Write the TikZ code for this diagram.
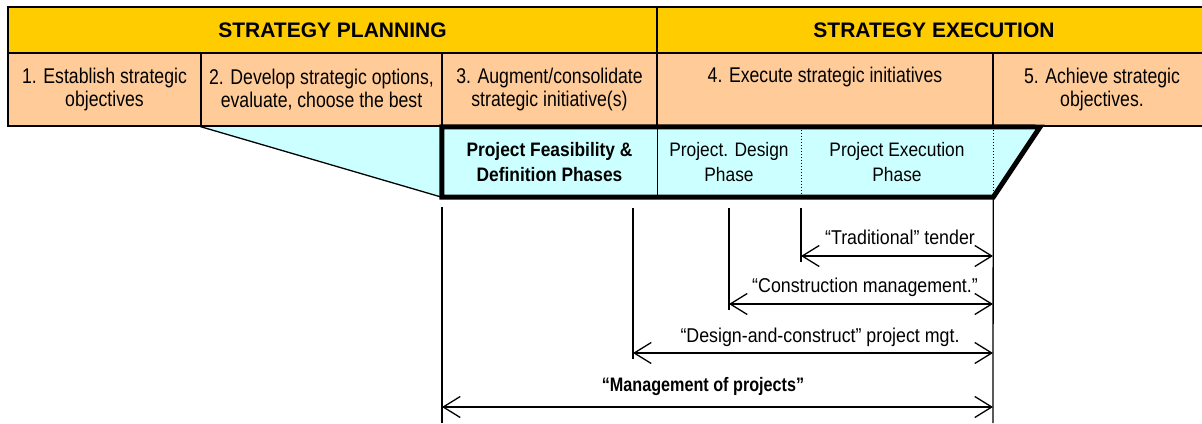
\documentclass[tikz,border=0pt]{standalone}
\usepackage{fontspec}
\setmainfont{Liberation Sans}
\newfontfamily\narrowsf[FakeStretch=0.83]{Liberation Sans}
\newfontfamily\phasesf[FakeStretch=0.89]{Liberation Sans}
\usepackage{tikz}
\usetikzlibrary{arrows.meta}
\definecolor{hdrfill}{HTML}{FFCC00}
\definecolor{stepfill}{HTML}{FFCC99}
\definecolor{phasefill}{HTML}{CCFFFF}
\tikzset{
    hdrcell/.style={rectangle, draw=black, line width=1.2pt, fill=hdrfill,
    minimum height=46pt, inner sep=0pt, font=\fontsize{21}{25}\selectfont\bfseries},
    stepcell/.style={rectangle, draw=black, line width=1.2pt, fill=stepfill,
    minimum height=73pt, inner sep=0pt, align=center, font=\narrowsf\fontsize{21.3}{23}\selectfont},
    phasecell/.style={rectangle, inner sep=0pt, minimum height=70pt, align=center,
    font=\phasesf\fontsize{19.5}{25}\selectfont},
    marker/.style={line width=1.3pt},
    spanarrow/.style={{Straight Barb[length=17pt,width=21pt]}-{Straight Barb[length=17pt,width=21pt]}, line width=1.3pt},
    spanlabel/.style={anchor=base, font=\phasesf\fontsize{20}{24}\selectfont},
}

\begin{document}
\begin{tikzpicture}[x=1pt, y=-1pt]

    \useasboundingbox (0,0) rectangle (1202,423);
    \clip (0,0) rectangle (1202,423);

% =========================================================
% Zoom wedge behind the project phases
% =========================================================

        \fill[phasefill] (201,126.6) -- (1040,126.6) -- (993,197) -- (442,197) -- cycle;

% =========================================================
% Strategy header + steps
% =========================================================

        \node[hdrcell, minimum width=649pt] (plan) at (332.5,30) {STRATEGY PLANNING};
        \node[hdrcell, minimum width=554pt] (exec) at (934,30)   {STRATEGY EXECUTION};

        \node[stepcell, minimum width=193pt] (s1) at (104.5,89.5) {1. Establish strategic\\objectives};
        \node[stepcell, minimum width=241pt] (s2) at (321.5,89.5) {2. Develop strategic options,\\evaluate, choose the best};
        \node[stepcell, minimum width=215pt] (s3) at (549.5,89.5) {3. Augment/consolidate\\strategic initiative(s)};
        \node[stepcell, minimum width=336pt] (s4) at (825,89.5)   {4. Execute strategic initiatives\\\strut};
        \node[stepcell, minimum width=218pt] (s5) at (1102,89.5)  {5. Achieve strategic\\objectives.};

% =========================================================
% Project phases
% =========================================================

        \node[phasecell, minimum width=215pt, font=\phasesf\fontsize{19.5}{25}\selectfont\bfseries] (feas) at (549.5,162)
            {Project Feasibility \&\\Definition Phases};
        \node[phasecell, minimum width=144pt] (design) at (729,162) {Project. Design\\Phase};
        \node[phasecell, minimum width=192pt] (build)  at (897,162) {Project Execution\\Phase};

        \draw[marker] (s2.south west) -- (feas.south west);
        \draw[marker] (feas.north east) -- (feas.south east);
        \draw[dotted, line width=1pt] (design.north east) -- (design.south east);
        \draw[dotted, line width=1pt] (build.north east) -- (build.south east);

        \coordinate (slant) at (1040,127);
        \draw[line width=5pt, line join=miter] (feas.north west) -- (slant) -- (build.south east) -- (feas.south west) -- cycle;

% =========================================================
% Procurement spans
% =========================================================

        \coordinate (tradL) at (801,256);
        \coordinate (tradR) at (993,256);
        \coordinate (cmL)   at (729,304);
        \coordinate (cmR)   at (993,304);
        \coordinate (dcL)   at (633,353);
        \coordinate (dcR)   at (993,353);
        \coordinate (mopL)  at (442,407);
        \coordinate (mopR)  at (993,407);

        \draw[marker] (442,207) -- (442,423);
        \draw[marker] (build.south east) -- (993,423);
        \draw[marker] (633,208) -- (633,359);
        \draw[marker] (729,208) -- (729,310);
        \draw[marker] (801,208) -- (801,262);

        \draw[spanarrow] (tradL) -- (tradR);
        \node[spanlabel] (trad) at (900,244) {“Traditional” tender};

        \draw[spanarrow] (cmL) -- (cmR);
        \node[spanlabel] (cm) at (865,292) {“Construction management.”};

        \draw[spanarrow] (dcL) -- (dcR);
        \node[spanlabel] (dc) at (820,342) {“Design-and-construct” project mgt.};

        \draw[spanarrow] (mopL) -- (mopR);
        \node[spanlabel, font=\narrowsf\fontsize{19.5}{23}\selectfont\bfseries] (mop) at (703,391) {“Management of projects”};

    \end{tikzpicture}
\end{document}
